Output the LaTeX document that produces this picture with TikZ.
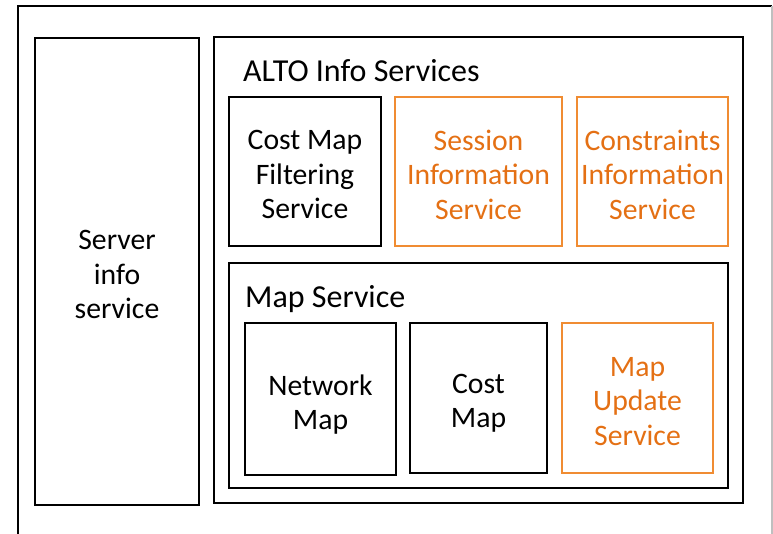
\documentclass[tikz,border=0pt]{standalone}
\usepackage{fontspec}
\setmainfont{Carlito}
\usetikzlibrary{positioning}
\definecolor{altoorange}{RGB}{240,140,50}
\definecolor{altotext}{RGB}{228,112,20}
\tikzset{
  svcbox/.style={draw=black, line width=1.7pt, inner sep=0pt},
  newsvc/.style={svcbox, draw=altoorange},
  svctext/.style={align=center, inner sep=0pt, font=\fontsize{29.7}{34.5}\selectfont},
  newtext/.style={svctext, text=altotext},
  grplabel/.style={anchor=base west, inner sep=0pt, font=\fontsize{32}{36}\selectfont}
}

\begin{document}
\begin{tikzpicture}[x=1pt, y=-1pt]
\useasboundingbox (0,0) rectangle (773,534);
\draw[black, line width=1.7pt] (18,534) -- (18,6) -- (772,6);
\draw[black!25, line width=1.7pt] (772,6) -- (772,534);

\node[svcbox, minimum width=164pt, minimum height=467pt] (server) at (117,271.5) {};
\node[svctext] (serverlbl) at ([yshift=-3pt]server.center) {Server\\info\\service};

\node[svcbox, minimum width=529pt, minimum height=466pt] (alto) at (478.5,270) {};
\node[grplabel] (altolbl) at (243,82) {ALTO Info Services};

\node[svcbox, minimum width=152pt, minimum height=149pt] (cmfs) at (305,171.5) {};
\node[svctext] at ([yshift=-3pt]cmfs.center) {Cost Map\\Filtering\\Service};
\node[newsvc, minimum width=167pt, minimum height=149pt] (session) at (478.5,171.5) {};
\node[newtext] at ([yshift=-3pt]session.center) {Session\\Information\\Service};
\node[newsvc, minimum width=151pt, minimum height=149pt] (constr) at (652.5,171.5) {};
\node[newtext] at ([yshift=-3pt]constr.center) {Constraints\\Information\\Service};

\node[svcbox, minimum width=499pt, minimum height=225pt] (mapsvc) at (478.5,375.5) {};
\node[grplabel] (maplbl) at (245,308) {Map Service};

\node[svcbox, minimum width=151pt, minimum height=152pt] (netmap) at (320.5,399) {};
\node[svctext] at ([yshift=-5.5pt]netmap.center) {Network\\Map};
\node[svcbox, minimum width=137pt, minimum height=150pt] (costmap) at (478.5,398) {};
\node[svctext] at ([yshift=-5.5pt]costmap.center) {Cost\\Map};
\node[newsvc, minimum width=151pt, minimum height=150pt] (mapupd) at (637.5,398) {};
\node[newtext] at ([yshift=-3.5pt]mapupd.center) {Map\\Update\\Service};
\end{tikzpicture}
\end{document}
